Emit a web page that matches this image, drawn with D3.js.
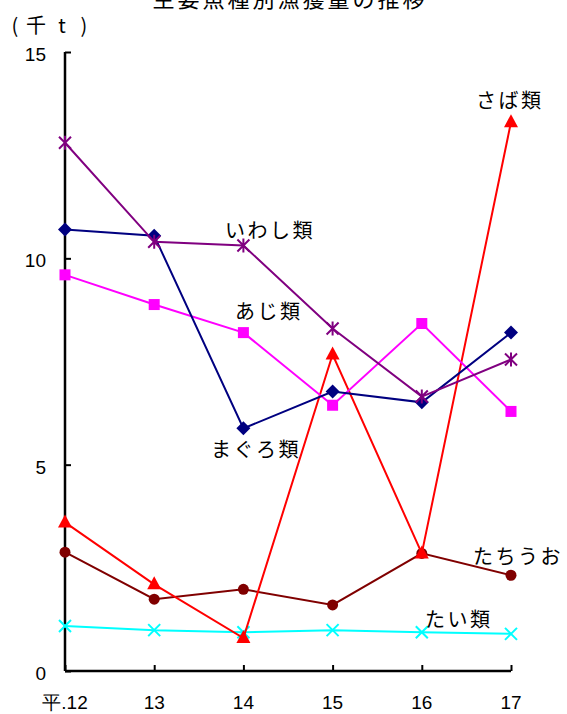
<!DOCTYPE html>
<html>
<head>
<meta charset="utf-8">
<script src="https://cdn.jsdelivr.net/npm/d3@7"></script>
<style>
  body { margin: 0; background: #fff; }
  text { font-family: "Liberation Sans", Arial, sans-serif; }
  .jp { font-family: "Noto Sans CJK JP", sans-serif; }
</style>
</head>
<body>
<svg width="567" height="714"></svg>
<script>
// Years (Heisei)
const years = ["平.12", "13", "14", "15", "16", "17"];
const yTicks = [0, 5, 10, 15];

// Catch by species (thousand tons)
const maguro = [10.7, 10.55, 5.88, 6.77, 6.51, 8.2];
const iwashi = [12.8, 10.4, 10.31, 8.3, 6.65, 7.55];
const aji = [9.6, 8.88, 8.2, 6.44, 8.42, 6.29];
const saba = [3.6, 2.1, 0.8, 7.67, 2.85, 13.3];
const tachiuo = [2.88, 1.74, 1.98, 1.6, 2.85, 2.32];
const tai = [1.09, 0.99, 0.94, 0.99, 0.94, 0.9];

const svg = d3.select("svg");

const x = d3.scalePoint().domain(years).range([65, 511]);
const y = d3.scaleLinear().domain([0, 15]).range([671, 52]);

// Title (partly cut off at the top, as in the original)
svg.append("text")
  .attr("class", "jp")
  .attr("x", 290)
  .attr("y", 7)
  .attr("text-anchor", "middle")
  .attr("font-size", 22)
  .attr("letter-spacing", 3)
  .text("主要魚種別漁獲量の推移");

// Unit label, spaced out
[["(", 15], ["千", 36], ["t", 62], [")", 84]].forEach(([c, cx]) => {
  svg.append("text")
    .attr("class", "jp")
    .attr("x", cx)
    .attr("y", 33)
    .attr("text-anchor", "middle")
    .attr("font-size", 20)
    .text(c);
});

// Y axis
const yAxis = svg.append("g")
  .attr("transform", "translate(65,0)")
  .call(d3.axisRight(y).tickValues(yTicks).tickSize(6).tickFormat(""));
yAxis.select(".domain").attr("stroke", "#000").attr("stroke-width", 2.5).attr("d", `M0,${y(15)}V${y(0)}`);
yAxis.selectAll(".tick line").attr("stroke-width", 2);

yTicks.forEach(t => {
  svg.append("text")
    .attr("x", 46)
    .attr("y", y(t) + 9)
    .attr("text-anchor", "end")
    .attr("font-size", 19)
    .text(t);
});

// X axis
const xAxis = svg.append("g")
  .attr("transform", `translate(0,${y(0)})`)
  .call(d3.axisTop(x).tickSize(6).tickFormat(""));
xAxis.select(".domain").attr("stroke", "#000").attr("stroke-width", 2.5).attr("d", `M65,0H${x("17")}`);
xAxis.selectAll(".tick line").attr("stroke-width", 2);

years.forEach(yr => {
  svg.append("text")
    .attr("x", x(yr))
    .attr("y", 709)
    .attr("text-anchor", "middle")
    .attr("font-size", 19)
    .text(yr);
});

const line = d3.line().x((d, i) => x(years[i])).y(d => y(d));

const series = [
  { name: "たい", vals: tai, color: "#00ffff", marker: "x" },
  { name: "たちうお", vals: tachiuo, color: "#800000", marker: "circle" },
  { name: "さば", vals: saba, color: "#ff0000", marker: "triangle" },
  { name: "あじ", vals: aji, color: "#ff00ff", marker: "square" },
  { name: "まぐろ", vals: maguro, color: "#000080", marker: "diamond" },
  { name: "いわし", vals: iwashi, color: "#800080", marker: "star" }
];

series.forEach(s => {
  svg.append("path")
    .attr("d", line(s.vals))
    .attr("fill", "none")
    .attr("stroke", s.color)
    .attr("stroke-width", 2);

  const g = svg.append("g");
  s.vals.forEach((v, i) => {
    const cx = x(years[i]), cy = y(v);
    if (s.marker === "circle") {
      g.append("circle").attr("cx", cx).attr("cy", cy).attr("r", 5.5).attr("fill", s.color);
    } else if (s.marker === "square") {
      g.append("rect").attr("x", cx - 5.5).attr("y", cy - 5.5).attr("width", 11).attr("height", 11).attr("fill", s.color);
    } else if (s.marker === "diamond") {
      g.append("path").attr("d", `M${cx},${cy - 7}L${cx + 7},${cy}L${cx},${cy + 7}L${cx - 7},${cy}Z`).attr("fill", s.color);
    } else if (s.marker === "triangle") {
      g.append("path").attr("d", `M${cx},${cy - 8}L${cx + 7},${cy + 5}L${cx - 7},${cy + 5}Z`).attr("fill", s.color);
    } else if (s.marker === "x") {
      g.append("path").attr("d", `M${cx - 6},${cy - 6}L${cx + 6},${cy + 6}M${cx - 6},${cy + 6}L${cx + 6},${cy - 6}`)
        .attr("stroke", s.color).attr("stroke-width", 2);
    } else if (s.marker === "star") {
      g.append("path").attr("d", `M${cx - 6},${cy - 6}L${cx + 6},${cy + 6}M${cx - 6},${cy + 6}L${cx + 6},${cy - 6}M${cx},${cy - 7}V${cy + 7}`)
        .attr("stroke", s.color).attr("stroke-width", 2);
    }
  });
});

// Series labels
const labels = [
  { text: "さば類", x: 476, y: 108 },
  { text: "いわし類", x: 225, y: 238 },
  { text: "あじ類", x: 235, y: 319 },
  { text: "まぐろ類", x: 211, y: 457 },
  { text: "たちうお", x: 473, y: 564 },
  { text: "たい類", x: 425, y: 627 }
];
labels.forEach(l => {
  svg.append("text")
    .attr("class", "jp")
    .attr("x", l.x)
    .attr("y", l.y)
    .attr("font-size", 20)
    .attr("letter-spacing", 2.5)
    .text(l.text);
});
</script>
</body>
</html>
